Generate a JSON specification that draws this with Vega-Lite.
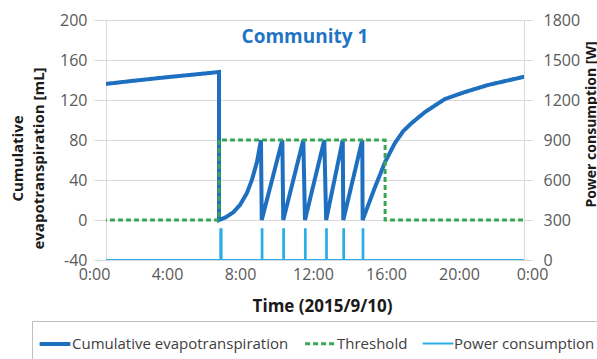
{
  "$schema": "https://vega.github.io/schema/vega-lite/v6.json",
  "width": 418,
  "height": 240,
  "autosize": {"type": "none"},
  "padding": {"left": 106, "top": 20, "right": 73, "bottom": 99},
  "background": "white",
  "title": {
    "text": "Community 1",
    "frame": "group",
    "anchor": "middle",
    "baseline": "top",
    "offset": -35,
    "dx": -10,
    "font": "Open Sans",
    "fontSize": 19,
    "fontWeight": "bold",
    "color": "#1f74c5"
  },
  "datasets": {
    "leftSeries": [
      {"hour": 0, "value": 134.7, "series": "Cumulative evapotranspiration"},
      {"hour": 2, "value": 138.9, "series": "Cumulative evapotranspiration"},
      {"hour": 4, "value": 142.8, "series": "Cumulative evapotranspiration"},
      {"hour": 6, "value": 146.4, "series": "Cumulative evapotranspiration"},
      {"hour": 6.85, "value": 148, "series": "Cumulative evapotranspiration"},
      {"hour": 6.85, "value": 0, "series": "Cumulative evapotranspiration"},
      {"hour": 7.2, "value": 2.5, "series": "Cumulative evapotranspiration"},
      {"hour": 7.62, "value": 7.5, "series": "Cumulative evapotranspiration"},
      {"hour": 8.0, "value": 15, "series": "Cumulative evapotranspiration"},
      {"hour": 8.38, "value": 27, "series": "Cumulative evapotranspiration"},
      {"hour": 8.65, "value": 40, "series": "Cumulative evapotranspiration"},
      {"hour": 8.93, "value": 58, "series": "Cumulative evapotranspiration"},
      {"hour": 9.15, "value": 80, "series": "Cumulative evapotranspiration"},
      {"hour": 9.19, "value": 0, "series": "Cumulative evapotranspiration"},
      {"hour": 10.32, "value": 80, "series": "Cumulative evapotranspiration"},
      {"hour": 10.37, "value": 0, "series": "Cumulative evapotranspiration"},
      {"hour": 11.47, "value": 80, "series": "Cumulative evapotranspiration"},
      {"hour": 11.56, "value": 0, "series": "Cumulative evapotranspiration"},
      {"hour": 12.62, "value": 80, "series": "Cumulative evapotranspiration"},
      {"hour": 12.72, "value": 0, "series": "Cumulative evapotranspiration"},
      {"hour": 13.63, "value": 80, "series": "Cumulative evapotranspiration"},
      {"hour": 13.66, "value": 0, "series": "Cumulative evapotranspiration"},
      {"hour": 14.7, "value": 80, "series": "Cumulative evapotranspiration"},
      {"hour": 14.72, "value": 0, "series": "Cumulative evapotranspiration"},
      {"hour": 15.07, "value": 17, "series": "Cumulative evapotranspiration"},
      {"hour": 15.4, "value": 33, "series": "Cumulative evapotranspiration"},
      {"hour": 15.95, "value": 58, "series": "Cumulative evapotranspiration"},
      {"hour": 16.49, "value": 77, "series": "Cumulative evapotranspiration"},
      {"hour": 16.95, "value": 89, "series": "Cumulative evapotranspiration"},
      {"hour": 17.41, "value": 97, "series": "Cumulative evapotranspiration"},
      {"hour": 18.14, "value": 108, "series": "Cumulative evapotranspiration"},
      {"hour": 19.23, "value": 121, "series": "Cumulative evapotranspiration"},
      {"hour": 20.33, "value": 128, "series": "Cumulative evapotranspiration"},
      {"hour": 21.59, "value": 135, "series": "Cumulative evapotranspiration"},
      {"hour": 23.51, "value": 143, "series": "Cumulative evapotranspiration"},
      {"hour": 24, "value": 144.5, "series": "Cumulative evapotranspiration"},
      {"hour": 0, "value": 0, "series": "Threshold"},
      {"hour": 6.85, "value": 0, "series": "Threshold"},
      {"hour": 6.85, "value": 80, "series": "Threshold"},
      {"hour": 15.95, "value": 80, "series": "Threshold"},
      {"hour": 15.95, "value": 0, "series": "Threshold"},
      {"hour": 24, "value": 0, "series": "Threshold"}
    ],
    "power": [
      {"hour": 0, "watts": 0, "series": "Power consumption"},
      {"hour": 6.92, "watts": 0, "series": "Power consumption"},
      {"hour": 6.92, "watts": 230, "series": "Power consumption"},
      {"hour": 6.99, "watts": 230, "series": "Power consumption"},
      {"hour": 6.99, "watts": 0, "series": "Power consumption"},
      {"hour": 9.19, "watts": 0, "series": "Power consumption"},
      {"hour": 9.19, "watts": 230, "series": "Power consumption"},
      {"hour": 9.23, "watts": 230, "series": "Power consumption"},
      {"hour": 9.23, "watts": 0, "series": "Power consumption"},
      {"hour": 10.37, "watts": 0, "series": "Power consumption"},
      {"hour": 10.37, "watts": 230, "series": "Power consumption"},
      {"hour": 10.41, "watts": 230, "series": "Power consumption"},
      {"hour": 10.41, "watts": 0, "series": "Power consumption"},
      {"hour": 11.56, "watts": 0, "series": "Power consumption"},
      {"hour": 11.56, "watts": 230, "series": "Power consumption"},
      {"hour": 11.6, "watts": 230, "series": "Power consumption"},
      {"hour": 11.6, "watts": 0, "series": "Power consumption"},
      {"hour": 12.72, "watts": 0, "series": "Power consumption"},
      {"hour": 12.72, "watts": 230, "series": "Power consumption"},
      {"hour": 12.76, "watts": 230, "series": "Power consumption"},
      {"hour": 12.76, "watts": 0, "series": "Power consumption"},
      {"hour": 13.66, "watts": 0, "series": "Power consumption"},
      {"hour": 13.66, "watts": 230, "series": "Power consumption"},
      {"hour": 13.7, "watts": 230, "series": "Power consumption"},
      {"hour": 13.7, "watts": 0, "series": "Power consumption"},
      {"hour": 14.72, "watts": 0, "series": "Power consumption"},
      {"hour": 14.72, "watts": 230, "series": "Power consumption"},
      {"hour": 14.76, "watts": 230, "series": "Power consumption"},
      {"hour": 14.76, "watts": 0, "series": "Power consumption"},
      {"hour": 24, "watts": 0, "series": "Power consumption"}
    ]
  },
  "encoding": {
    "x": {
      "field": "hour",
      "type": "quantitative",
      "scale": {"domain": [0, 24], "range": [-12, 426], "nice": false, "zero": false},
      "axis": {
        "values": [0, 4, 8, 12, 16, 20, 24],
        "labelExpr": "(datum.value % 24) + ':00'",
        "labelFlush": false,
        "grid": false,
        "domain": false,
        "ticks": false,
        "labelPadding": 6,
        "labelFontSize": 16,
        "labelColor": "#595959",
        "labelFont": "Open Sans",
        "title": "Time (2015/9/10)",
        "titleFont": "Open Sans",
        "titleFontSize": 17,
        "titleFontWeight": "bold",
        "titleColor": "#1a1a1a",
        "titlePadding": 16,
        "titleX": 216
      }
    },
    "color": {
      "field": "series",
      "type": "nominal",
      "scale": {
        "domain": ["Cumulative evapotranspiration", "Threshold", "Power consumption"],
        "range": ["#1f6fc0", "#3aa655", "#29aee8"]
      },
      "legend": {
        "orient": "none",
        "direction": "horizontal",
        "legendX": -74,
        "legendY": 301,
        "title": null,
        "symbolType": "M-2.2,0H2.2",
        "symbolSize": 196,
        "labelOffset": 8,
        "labelLimit": 0,
        "columnPadding": 10,
        "labelFont": "Open Sans",
        "labelFontSize": 15,
        "labelColor": "#404040",
        "padding": 14,
        "strokeColor": "#bfbfbf"
      }
    },
    "strokeDash": {
      "field": "series",
      "type": "nominal",
      "scale": {
        "domain": ["Cumulative evapotranspiration", "Threshold", "Power consumption"],
        "range": [[1, 0], [5, 3], [1, 0]]
      }
    },
    "strokeWidth": {
      "field": "series",
      "type": "nominal",
      "scale": {
        "domain": ["Cumulative evapotranspiration", "Threshold", "Power consumption"],
        "range": [4, 2, 2.5]
      },
      "legend": null
    },
    "order": {"value": null}
  },
  "layer": [
    {
      "data": {"name": "leftSeries"},
      "mark": {"type": "line", "clip": true},
      "encoding": {
        "y": {
          "field": "value",
          "type": "quantitative",
          "scale": {"domain": [-40, 200], "nice": false, "zero": false},
          "axis": {
            "values": [-40, 0, 40, 80, 120, 160, 200],
            "labelExpr": "'' + datum.value",
            "grid": true,
            "gridColor": "#d9d9d9",
            "domain": false,
            "ticks": false,
            "labelPadding": 19,
            "labelFontSize": 16,
            "labelColor": "#595959",
            "labelFont": "Open Sans",
            "title": ["Cumulative", "evapotranspiration [mL]"],
            "titleFont": "Open Sans",
            "titleFontSize": 15,
            "titleFontWeight": "bold",
            "titleColor": "#1a1a1a",
            "titleLineHeight": 21,
            "titleAngle": 270,
            "titleAlign": "center",
            "titleBaseline": "bottom",
            "titleX": -81,
            "titleY": 138
          }
        }
      }
    },
    {
      "data": {"name": "power"},
      "mark": {"type": "line", "clip": true},
      "encoding": {
        "y": {
          "field": "watts",
          "type": "quantitative",
          "scale": {"domain": [0, 1800], "nice": false, "zero": false},
          "axis": {
            "orient": "right",
            "values": [0, 300, 600, 900, 1200, 1500, 1800],
            "labelExpr": "'' + datum.value",
            "grid": false,
            "domain": false,
            "ticks": false,
            "labelPadding": 19,
            "labelFontSize": 16,
            "labelColor": "#595959",
            "labelFont": "Open Sans",
            "title": "Power consumption [W]",
            "titleFont": "Open Sans",
            "titleFontSize": 14,
            "titleFontWeight": "bold",
            "titleColor": "#1a1a1a",
            "titleAngle": 270,
            "titleAlign": "center",
            "titleBaseline": "top",
            "titleX": 60,
            "titleY": 104
          }
        }
      }
    }
  ],
  "resolve": {"scale": {"y": "independent"}},
  "config": {
    "view": {"stroke": "#d9d9d9"},
    "font": "Open Sans"
  }
}
